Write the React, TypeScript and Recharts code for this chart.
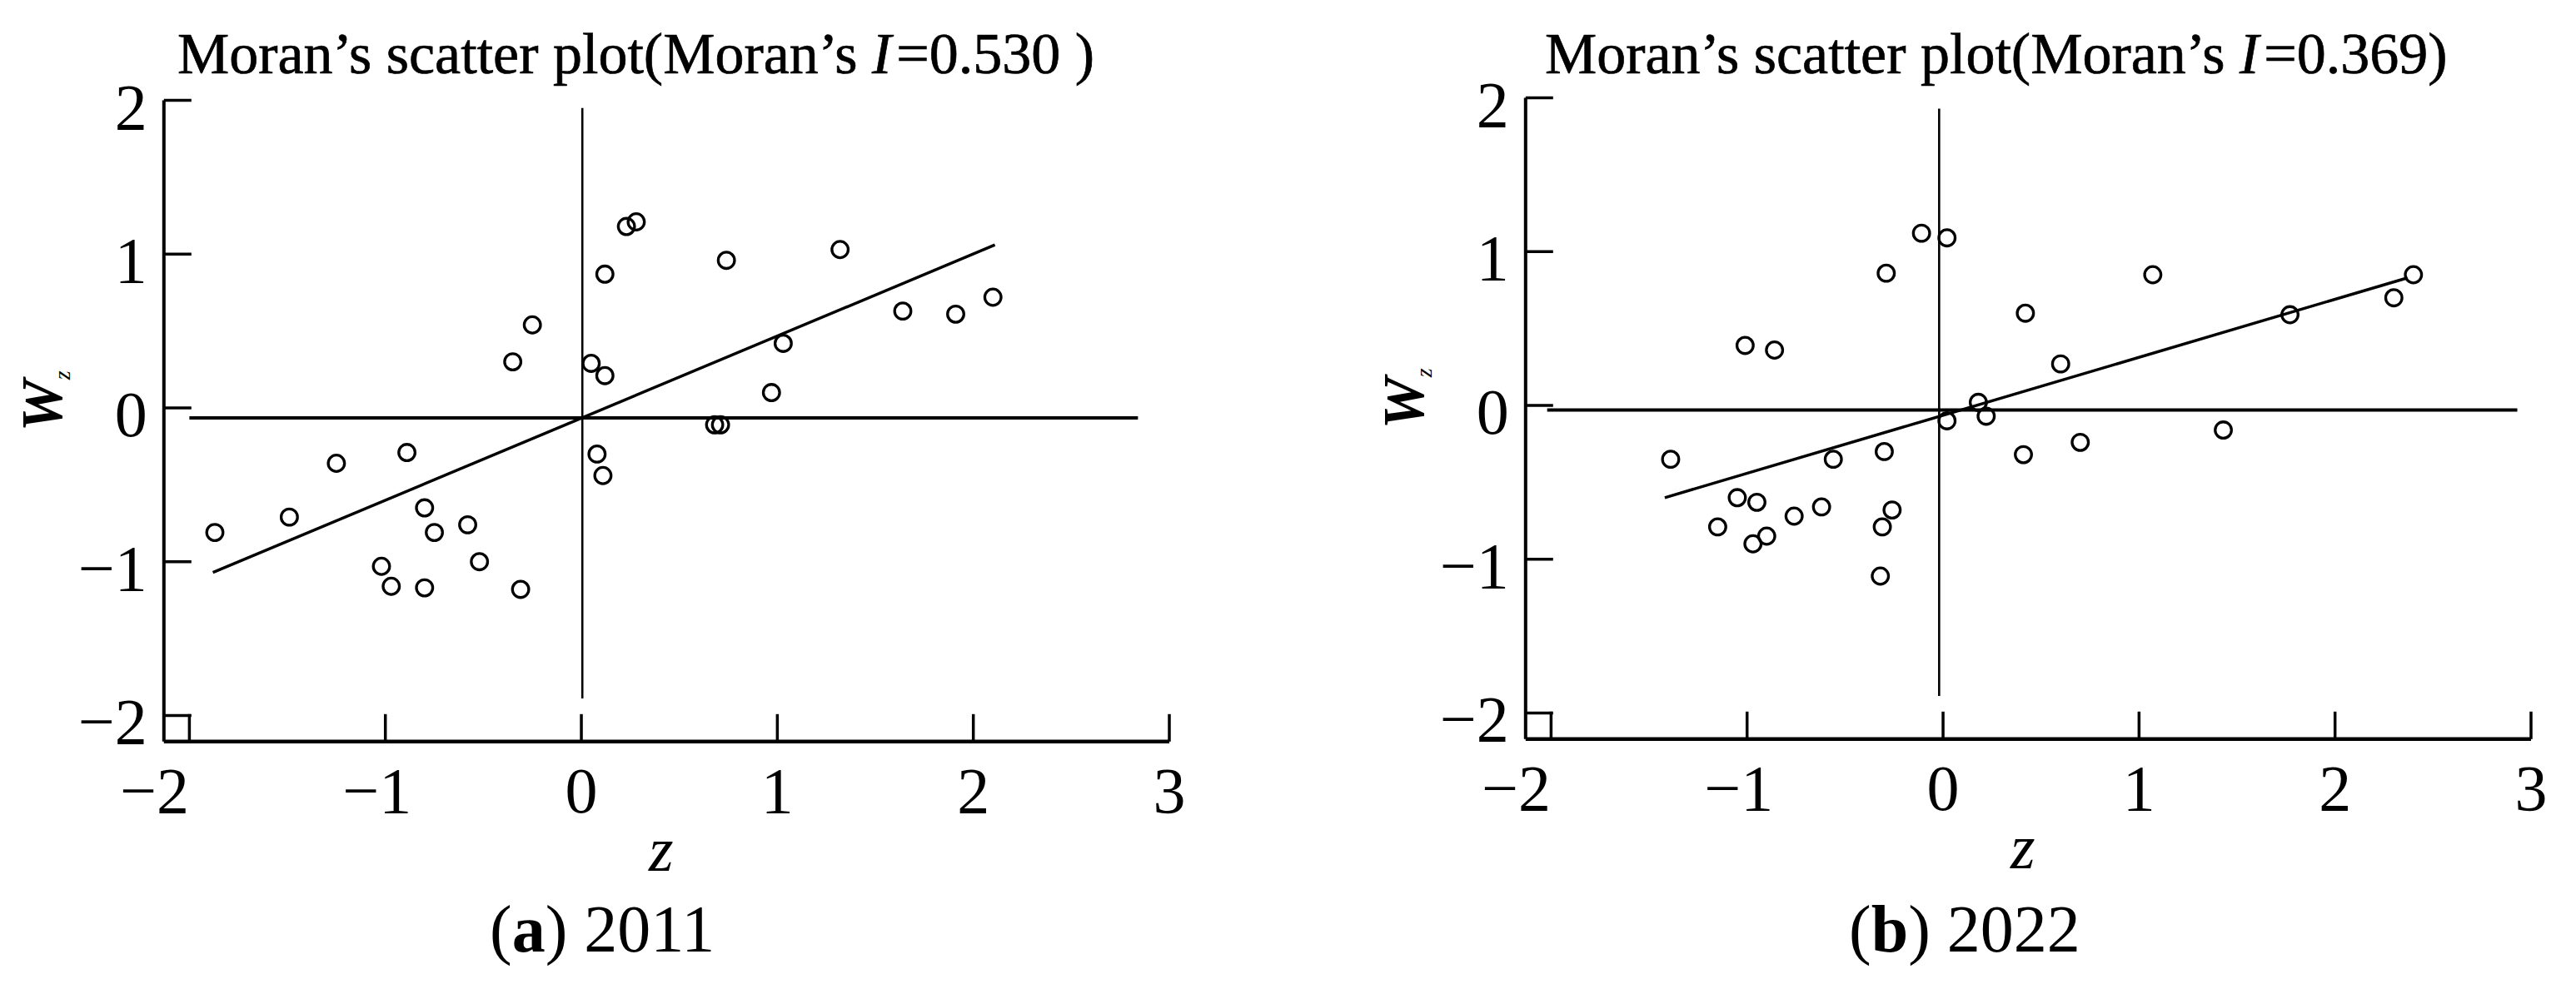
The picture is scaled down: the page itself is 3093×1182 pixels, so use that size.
import React from 'react'
import {
  ScatterChart,
  Scatter,
  XAxis,
  YAxis,
  ReferenceLine,
  Label,
} from 'recharts'

// ---- data ----
const z2011 = [0.23, 0.28, 0.12, -0.25, -0.35, 0.05, 0.12, -0.89, -1.25, 0.08, 0.11, -0.8, -1.49, -1.87, -0.75, -0.58, -0.52, -1.02, -0.97, -0.8, -0.31, 0.74, 1.32, 1.64, 1.91, 2.1, 1.03, 0.97, 0.68, 0.71]
const wz2011 = [1.18, 1.21, 0.87, 0.54, 0.3, 0.29, 0.21, -0.29, -0.36, -0.3, -0.44, -0.65, -0.71, -0.81, -0.81, -0.76, -1.0, -1.03, -1.16, -1.17, -1.18, 0.96, 1.03, 0.63, 0.61, 0.72, 0.42, 0.1, -0.11, -0.11]

const z2022 = [-0.11, 0.02, -0.29, -1.01, -0.86, 0.18, 0.22, 0.02, -0.3, -1.39, -0.56, -1.05, -0.95, -0.62, -0.76, -0.26, -1.15, -0.31, -0.9, -0.97, -0.32, 1.07, 0.42, 0.6, 1.77, 2.3, 2.4, 1.43, 0.7, 0.41]
const wz2022 = [1.12, 1.09, 0.86, 0.39, 0.36, 0.02, -0.07, -0.1, -0.3, -0.35, -0.35, -0.6, -0.63, -0.66, -0.72, -0.68, -0.79, -0.79, -0.85, -0.9, -1.11, 0.85, 0.6, 0.27, 0.59, 0.7, 0.85, -0.16, -0.24, -0.32]

// fitted line end points (z, Wz)
const fitZ2011 = [-1.88, 2.11]
const fitW2011 = [-1.07, 1.06]
const fitZ2022 = [-1.42, 2.37]
const fitW2022 = [-0.6, 0.83]

// quadrant lines: [mean Wz, horizontal from, to], [mean z, vertical from, to]
const hLine2011 = [-0.065, -2.0, 2.84]
const vLine2011 = [0.005, -1.89, 1.95]
const hLine2022 = [-0.03, -2.02, 2.93]
const vLine2022 = [-0.02, -1.89, 1.93]

const xTicks = [-2, -1, 0, 1, 2, 3]
const yTicks = [-2, -1, 0, 1, 2]

const FONT = "'Liberation Serif', 'Times New Roman', serif"
const TICK_LEN = 33

const fmt = (v: number) => (v < 0 ? '\u2212' + Math.abs(v) : String(v))

function XTick(props: any) {
  const { x, y, payload } = props
  const v = payload.value
  // first label sits left of its tick (clear of the y axis corner)
  const shift = v === xTicks[0] ? -42 : v < 0 ? -10 : 0
  return (
    <g>
      <line x1={x} x2={x} y1={y} y2={y - TICK_LEN} stroke="#000" strokeWidth={3.5} />
      <text x={x + shift} y={y + 85} textAnchor="middle" fontFamily={FONT} fontSize={78} fill="#000">
        {fmt(v)}
      </text>
    </g>
  )
}

function YTick(props: any) {
  const { x, y, payload } = props
  return (
    <g>
      <line x1={x} x2={x + TICK_LEN} y1={y} y2={y} stroke="#000" strokeWidth={3.5} />
      <text x={x - 20} y={y + 34} textAnchor="end" fontFamily={FONT} fontSize={78} fill="#000">
        {fmt(payload.value)}
      </text>
    </g>
  )
}

function Ring(props: any) {
  const { cx, cy } = props
  if (cx == null || cy == null) return <g />
  return <circle cx={cx} cy={cy} r={9.8} fill="none" stroke="#000" strokeWidth={3.3} />
}

interface MoranProps {
  zs: number[]
  ws: number[]
  fitZ: number[]
  fitW: number[]
  hLine: number[]
  vLine: number[]
  width: number
}

function MoranPlot({ zs, ws, fitZ, fitW, hLine, vLine, width }: MoranProps) {
  const points = zs.map((z, i) => ({ x: z, y: ws[i] }))
  const fit = fitZ.map((z, i) => ({ x: z, y: fitW[i] }))

  return (
    <ScatterChart
      width={width}
      height={1182}
      margin={{ top: 120.6, right: width - 1404, left: 0, bottom: 91.2 }}
    >
      <XAxis
        type="number"
        dataKey="x"
        domain={[-2.13, 3]}
        ticks={xTicks}
        interval={0}
        allowDataOverflow
        height={200}
        tickSize={0}
        tickMargin={0}
        tickLine={false}
        tick={<XTick />}
        axisLine={{ stroke: '#000', strokeWidth: 4.5 }}
      >
        <Label
          content={(p: any) => {
            const vb = p.viewBox || { x: 196.8, y: 890.8 }
            return (
              <text
                x={vb.x + 597}
                y={vb.y + 155}
                textAnchor="middle"
                fontFamily={FONT}
                fontStyle="italic"
                fontSize={76}
                fill="#000"
              >
                z
              </text>
            )
          }}
        />
      </XAxis>
      <YAxis
        type="number"
        dataKey="y"
        domain={[-2.17, 2]}
        ticks={yTicks}
        interval={0}
        allowDataOverflow
        width={196.8}
        tickSize={0}
        tickMargin={0}
        tickLine={false}
        tick={<YTick />}
        axisLine={{ stroke: '#000', strokeWidth: 4 }}
      >
        <Label
          content={(p: any) => {
            const vb = p.viewBox || { x: 0, y: 120.6 }
            const ax = vb.x + 74
            const ay = vb.y + 398
            return (
              <text
                x={ax}
                y={ay}
                transform={`rotate(-90, ${ax}, ${ay})`}
                fontFamily={FONT}
                fill="#000"
              >
                <tspan fontSize={70} fontStyle="italic" fontWeight="bold">W</tspan>
                <tspan fontSize={28} fontStyle="italic" dy={10}>z</tspan>
              </text>
            )
          }}
        />
      </YAxis>
      <ReferenceLine
        segment={[
          { x: hLine[1], y: hLine[0] },
          { x: hLine[2], y: hLine[0] },
        ]}
        stroke="#000"
        strokeWidth={4}
      />
      <ReferenceLine
        segment={[
          { x: vLine[0], y: vLine[1] },
          { x: vLine[0], y: vLine[2] },
        ]}
        stroke="#000"
        strokeWidth={2.6}
      />
      <Scatter
        data={fit}
        line={{ stroke: '#000', strokeWidth: 3.5 }}
        shape={() => <g />}
        isAnimationActive={false}
      />
      <Scatter data={points} shape={<Ring />} isAnimationActive={false} />
    </ScatterChart>
  )
}

export default function App() {
  return (
    <div
      style={{
        position: 'absolute',
        left: 0,
        top: 0,
        width: 3093,
        height: 1182,
        overflow: 'hidden',
        background: '#fff',
      }}
    >
      <div style={{ position: 'absolute', left: 0, top: 0 }}>
        <MoranPlot
          zs={z2011}
          ws={wz2011}
          fitZ={fitZ2011}
          fitW={fitW2011}
          hLine={hLine2011}
          vLine={vLine2011}
          width={1500}
        />
      </div>
      <div style={{ position: 'absolute', left: 1635, top: -3 }}>
        <MoranPlot
          zs={z2022}
          ws={wz2022}
          fitZ={fitZ2022}
          fitW={fitW2022}
          hLine={hLine2022}
          vLine={vLine2022}
          width={1458}
        />
      </div>
      <svg
        width={3093}
        height={1182}
        style={{ position: 'absolute', left: 0, top: 0, pointerEvents: 'none' }}
        fontFamily={FONT}
        fill="#000"
      >
        <g stroke="#000" strokeWidth={0.7} fontSize={70}>
          <text x={213} y={88}>
            Moran’s scatter plot(Moran’s <tspan fontStyle="italic">I</tspan>
            <tspan dx={6}>=0.530 )</tspan>
          </text>
          <text x={1855} y={88}>
            Moran’s scatter plot(Moran’s <tspan fontStyle="italic">I</tspan>
            <tspan dx={6}>=0.369)</tspan>
          </text>
        </g>
        <text x={588} y={1143} fontSize={80}>
          (<tspan fontWeight="bold">a</tspan>) 2011
        </text>
        <text x={2220} y={1143} fontSize={80}>
          (<tspan fontWeight="bold">b</tspan>) 2022
        </text>
      </svg>
    </div>
  )
}
